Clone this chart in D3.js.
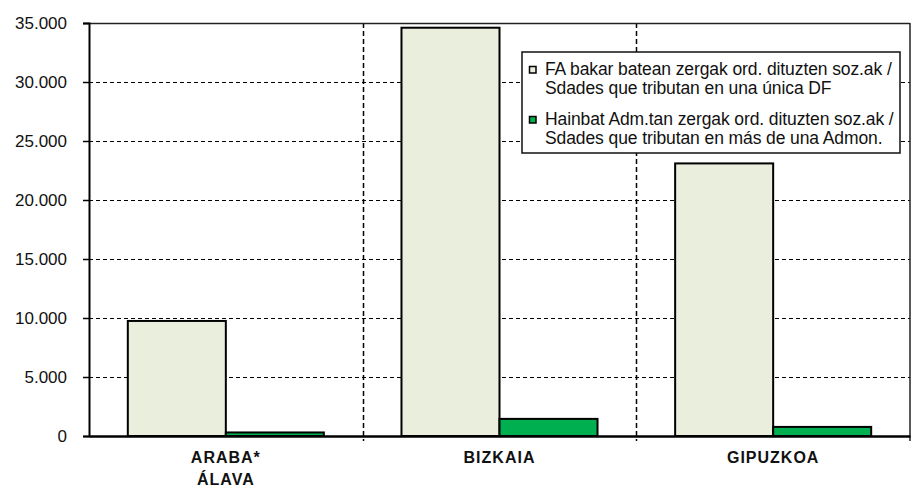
<!DOCTYPE html>
<html>
<head>
<meta charset="utf-8">
<script src="https://cdn.jsdelivr.net/npm/d3@7"></script>
<style>
  body { margin: 0; background: #fff; }
  svg text { font-family: "Liberation Sans", Arial, sans-serif; fill: #111; }
</style>
</head>
<body>
<svg id="chart" width="913" height="491"></svg>
<script>
// categories (two-line labels)
const categories = ["ARABA*", "BIZKAIA", "GIPUZKOA"];
const categoryLines = [["ARABA*", "ÁLAVA"], ["BIZKAIA"], ["GIPUZKOA"]];

// series
const seriesNames = [
    ["FA bakar batean zergak ord. dituzten soz.ak /", "Sdades que tributan en una única DF"],
    ["Hainbat Adm.tan zergak ord. dituzten soz.ak /", "Sdades que tributan en más de una Admon."]
];
const singleDF = [9750, 34600, 23100];
const multiAdmin = [300, 1450, 770];
const seriesColors = ["#eaeedd", "#00b050"];

const yTicks = [0, 5000, 10000, 15000, 20000, 25000, 30000, 35000];

const svg = d3.select("#chart");

const plot = {left: 89, right: 910, top: 23, bottom: 436};

let locale = d3.formatLocale({decimal: ",", thousands: ".", grouping: [3], currency: ["", "€"]});
let fmt = locale.format(",d");

let y = d3.scaleLinear()
    .domain([0, 35000])
    .range([plot.bottom, plot.top]);

let x0 = d3.scaleBand()
    .domain(categories)
    .range([plot.left, plot.right])
    .padding(0);

let x1 = d3.scaleBand()
    .domain([0, 1])
    .range([0, x0.bandwidth()])
    .paddingInner(0)
    .paddingOuter(0.396);

//horizontal dashed gridlines
svg.append("g").selectAll("line")
    .data(yTicks.filter(d => d > 0))
    .enter().append("line")
    .attr("x1", plot.left)
    .attr("x2", plot.right)
    .attr("y1", d => Math.round(y(d)) + 0.5)
    .attr("y2", d => Math.round(y(d)) + 0.5)
    .attr("stroke", "#000")
    .attr("stroke-width", 1)
    .attr("stroke-dasharray", "4,3");

//vertical dashed separators between categories
svg.append("g").selectAll("line")
    .data(categories.slice(1))
    .enter().append("line")
    .attr("x1", d => Math.round(x0(d)) + 0.5)
    .attr("x2", d => Math.round(x0(d)) + 0.5)
    .attr("y1", plot.top)
    .attr("y2", plot.bottom + 5)
    .attr("stroke", "#000")
    .attr("stroke-width", 1.5)
    .attr("stroke-dasharray", "5,3");

// bars
let data = categories.map((c, i) => ({cat: c, values: [singleDF[i], multiAdmin[i]]}));

let groups = svg.append("g").selectAll("g")
    .data(data)
    .enter().append("g")
    .attr("transform", d => `translate(${x0(d.cat)},0)`);

groups.selectAll("rect")
    .data(d => d.values.map((v, k) => ({k: k, v: v})))
    .enter().append("rect")
    .attr("x", d => x1(d.k))
    .attr("width", x1.bandwidth())
    .attr("y", d => y(d.v))
    .attr("height", d => y(0) - y(d.v))
    .attr("fill", d => seriesColors[d.k])
    .attr("stroke", "#000")
    .attr("stroke-width", 2);

// plot frame: top and right solid
svg.append("line")
    .attr("x1", plot.left).attr("x2", plot.right)
    .attr("y1", plot.top + 0.5).attr("y2", plot.top + 0.5)
    .attr("stroke", "#222").attr("stroke-width", 1.5);
svg.append("line")
    .attr("x1", plot.right).attr("x2", plot.right)
    .attr("y1", plot.top).attr("y2", plot.bottom + 5)
    .attr("stroke", "#222").attr("stroke-width", 1.5);

// y axis
let yAxis = d3.axisLeft(y)
    .tickValues(yTicks)
    .tickFormat(fmt)
    .tickSize(6)
    .tickPadding(16);

let yg = svg.append("g")
    .attr("transform", `translate(${plot.left},0)`)
    .call(yAxis);
yg.select(".domain").attr("stroke", "#000").attr("stroke-width", 2);
yg.selectAll(".tick line").attr("stroke", "#000").attr("stroke-width", 1.5);
yg.selectAll(".tick text")
    .style("font-size", "17px")
    .attr("fill", "#111");

// x axis line
let xAxis = d3.axisBottom(x0)
    .tickFormat("")
    .tickSize(0);
let xg = svg.append("g")
    .attr("transform", `translate(0,${plot.bottom})`)
    .call(xAxis);
xg.select(".domain").attr("stroke", "#000").attr("stroke-width", 2.5);
xg.selectAll(".tick").remove();

// category labels
svg.append("g").selectAll("text")
    .data(categories)
    .enter().append("text")
    .attr("x", d => x0(d) + x0.bandwidth() / 2)
    .attr("y", 463)
    .attr("text-anchor", "middle")
    .style("font-size", "16px")
    .style("font-weight", "bold")
    .style("letter-spacing", "1px")
    .selectAll("tspan")
    .data((d, i) => categoryLines[i])
    .enter().append("tspan")
    .attr("x", function() { return d3.select(this.parentNode).attr("x"); })
    .attr("dy", (d, i) => i === 0 ? 0 : 22)
    .text(d => d);

// legend
let legend = svg.append("g").attr("transform", "translate(522,52)");
legend.append("rect")
    .attr("width", 378)
    .attr("height", 101)
    .attr("fill", "#fff")
    .attr("stroke", "#111")
    .attr("stroke-width", 1.5);

let items = legend.selectAll("g.item")
    .data(seriesNames)
    .enter().append("g")
    .attr("class", "item")
    .attr("transform", (d, i) => `translate(0,${i * 50})`);

items.append("rect")
    .attr("x", 7.5)
    .attr("y", 14.5)
    .attr("width", 6.5)
    .attr("height", 6.5)
    .attr("fill", (d, i) => seriesColors[i])
    .attr("stroke", "#000")
    .attr("stroke-width", 1.5);

items.append("text")
    .attr("x", 23)
    .attr("y", 23)
    .style("font-size", "17.5px")
    .style("letter-spacing", "-0.1px")
    .selectAll("tspan")
    .data(d => d)
    .enter().append("tspan")
    .attr("x", 23)
    .attr("dy", (d, i) => i === 0 ? 0 : 19)
    .text(d => d);
</script>
</body>
</html>
